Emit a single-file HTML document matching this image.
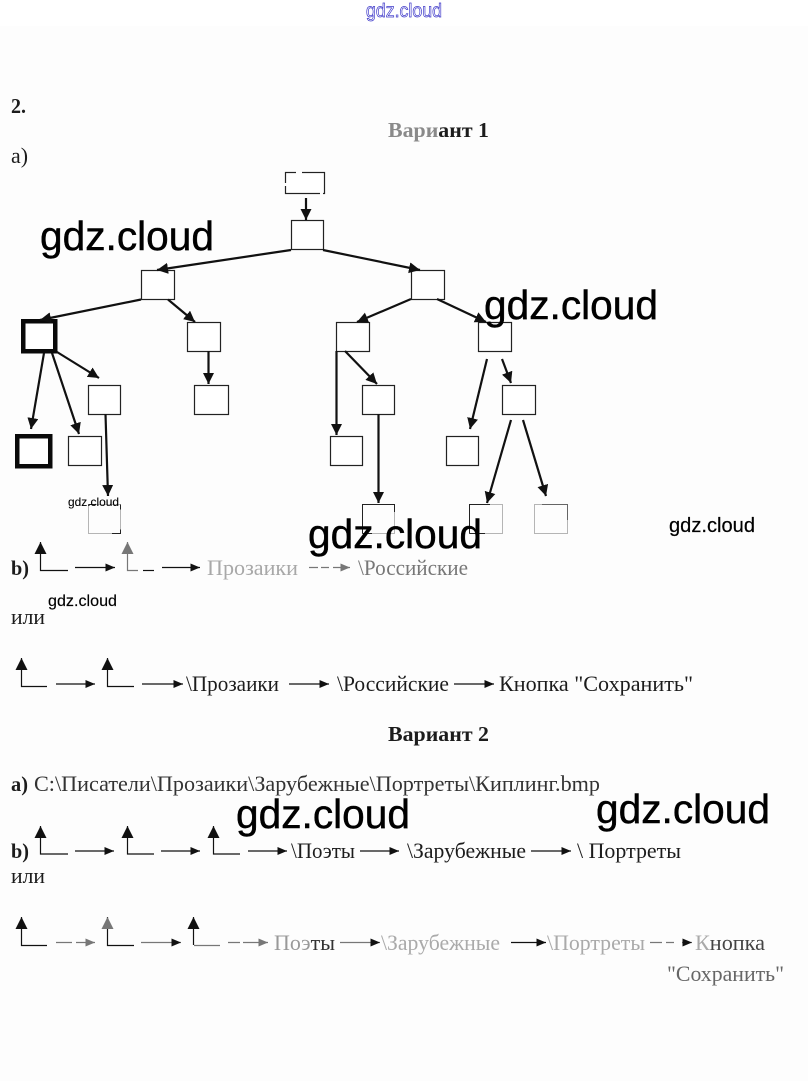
<!DOCTYPE html>
<html lang="ru">
<head>
<meta charset="utf-8">
<title>Вариант</title>
<style>
html,body{margin:0;padding:0;background:#fff}
svg{display:block}
text{font-family:"Liberation Serif",serif;font-size:22px;fill:#1c1c1c}
.b{font-weight:bold;font-size:21px}
.w{font-family:"Liberation Sans",sans-serif;fill:#000;stroke:#000;stroke-width:.45}
.bx{fill:#fff;stroke:#222;stroke-width:1.2}
.fd{fill:#fdfdfd;stroke:#b5b5b5;stroke-width:1}
.t{stroke:#111;stroke-width:2.2;fill:none}
.r{stroke:#111;stroke-width:1.2;fill:none}
.rg{stroke:#777;stroke-width:1.2;fill:none}
</style>
</head>
<body>
<svg width="808" height="1081" viewBox="0 0 808 1081" xmlns="http://www.w3.org/2000/svg">
<defs>
<marker id="h" markerUnits="userSpaceOnUse" markerWidth="13" markerHeight="13" refX="11" refY="5.500" orient="auto"><path d="M0 0L11 5.500L0 11Z" fill="#111"/></marker>
<marker id="s" markerUnits="userSpaceOnUse" markerWidth="11" markerHeight="9" refX="9.500" refY="4" orient="auto"><path d="M0 0L9.500 4L0 8Z" fill="#111"/></marker>
<marker id="g" markerUnits="userSpaceOnUse" markerWidth="11" markerHeight="9" refX="9.500" refY="4" orient="auto"><path d="M0 0L9.500 4L0 8Z" fill="#777"/></marker>
<marker id="u" markerUnits="userSpaceOnUse" markerWidth="14" markerHeight="13" refX="12" refY="6" orient="auto"><path d="M0 0L12 6L0 12Z" fill="#111"/></marker>
<marker id="ug" markerUnits="userSpaceOnUse" markerWidth="14" markerHeight="13" refX="12" refY="6" orient="auto"><path d="M0 0L12 6L0 12Z" fill="#777"/></marker>
</defs>
<rect width="808" height="1081" fill="#fdfdfd"/>
<rect width="808" height="26" fill="#fff"/>

<text class="w" x="366" y="17" textLength="76" lengthAdjust="spacingAndGlyphs" style="fill:#fff;stroke:#3a35c8;stroke-width:.7;font-size:19px">gdz.cloud</text>

<text class="b" x="11" y="113" textLength="15" lengthAdjust="spacingAndGlyphs">2.</text>
<text class="b" x="388" y="137" textLength="101" lengthAdjust="spacingAndGlyphs"><tspan style="fill:#8a8a8a">Вари</tspan>ант 1</text>
<text x="11" y="163" textLength="17" lengthAdjust="spacingAndGlyphs">а)</text>

<!-- tree boxes -->
<rect class="bx" x="285.500" y="172.500" width="39" height="21"/>
<path d="M296 172.500h6M285.500 183v3M320 193.500h3" stroke="#fdfdfd" stroke-width="2" fill="none"/>
<rect class="bx" x="291.500" y="220.500" width="32" height="29"/>
<rect class="bx" x="141.500" y="270.500" width="33" height="29"/>
<rect class="bx" x="411.500" y="270.500" width="33" height="29"/>
<rect x="23.250" y="321.250" width="32" height="30" fill="#fff" stroke="#0a0a0a" stroke-width="4.500"/>
<rect class="bx" x="187.500" y="322.500" width="33" height="29"/>
<rect class="bx" x="336.500" y="322.500" width="33" height="29"/>
<rect class="bx" x="478.500" y="322.500" width="33" height="29"/>
<rect class="bx" x="88.500" y="385.500" width="32" height="29"/>
<rect class="bx" x="194.500" y="385.500" width="34" height="29"/>
<rect class="bx" x="362.500" y="385.500" width="32" height="29"/>
<rect class="bx" x="502.500" y="385.500" width="33" height="29"/>
<rect x="17.250" y="436.250" width="33" height="30" fill="#fff" stroke="#0a0a0a" stroke-width="4.500"/>
<rect class="bx" x="68.500" y="436.500" width="33" height="29"/>
<rect class="bx" x="330.500" y="436.500" width="32" height="29"/>
<rect class="bx" x="446.500" y="436.500" width="32" height="29"/>
<rect class="fd" x="88.500" y="504.500" width="32" height="29"/>
<path d="M88.500 504.500H95M120.500 504.500v5M112 533.500h8.500v-4" fill="none" stroke="#222"/>
<rect class="fd" x="362.500" y="504.500" width="32" height="29"/>
<path d="M362.500 533.500V504.500H394.500V512M362.500 533.500H372" fill="none" stroke="#222"/>
<rect class="fd" x="469.500" y="504.500" width="33" height="29"/>
<path d="M469.500 533.500V504.500H490M469.500 533.500H485" fill="none" stroke="#222"/>
<rect class="fd" x="534.500" y="504.500" width="33" height="29"/>
<path d="M542 504.500H567.500V520" fill="none" stroke="#666"/>

<!-- tree arrows -->
<g class="t">
<path d="M306 198V220" marker-end="url(#h)"/>
<path d="M291 250L157 270" marker-end="url(#h)"/>
<path d="M323 250L420 270" marker-end="url(#h)"/>
<path d="M141 299.500L40 320" marker-end="url(#h)"/>
<path d="M168 299.500L195 322" marker-end="url(#h)"/>
<path d="M57 352L99 378" marker-end="url(#h)"/>
<path d="M44 353L31 429" marker-end="url(#h)"/>
<path d="M52 353L79 434" marker-end="url(#h)"/>
<path d="M105.500 414L108 496" marker-end="url(#h)"/>
<path d="M208.500 351V384" marker-end="url(#h)"/>
<path d="M336.500 351V435" marker-end="url(#h)"/>
<path d="M345 351L377 384" marker-end="url(#h)"/>
<path d="M378.500 414V503" marker-end="url(#h)"/>
<path d="M411 299L357 322" marker-end="url(#h)"/>
<path d="M437 299L486 322" marker-end="url(#h)"/>
<path d="M487 359L470 429" marker-end="url(#h)"/>
<path d="M502 359L511 383" marker-end="url(#h)"/>
<path d="M511 420L487 503" marker-end="url(#h)"/>
<path d="M523 420L546 496" marker-end="url(#h)"/>
</g>

<!-- row b) variant 1 -->
<text class="b" x="11" y="575" textLength="18" lengthAdjust="spacingAndGlyphs">b)</text>
<path class="r" d="M68 570.500H40.500V542" marker-end="url(#u)"/>
<path class="r" d="M75 567.500H115" marker-end="url(#s)"/>
<path class="rg" d="M138 570.500H127.500V542" marker-end="url(#ug)"/>
<path class="r" d="M143 570.500H154"/>
<path class="r" d="M162 567.500H200" marker-end="url(#s)"/>
<text x="207" y="575" textLength="91" lengthAdjust="spacingAndGlyphs" style="fill:#a8a8a8">Прозаики</text>
<path class="rg" d="M309 567.500H350" stroke-dasharray="9 3 8 4" marker-end="url(#g)"/>
<text x="358" y="575" textLength="110" lengthAdjust="spacingAndGlyphs" style="fill:#777">\Российские</text>
<text x="11" y="624" textLength="34" lengthAdjust="spacingAndGlyphs">или</text>

<path class="r" d="M47 686.500H21.500V658" marker-end="url(#u)"/>
<path class="r" d="M56 684H95" marker-end="url(#s)"/>
<path class="r" d="M134 686.500H107.500V658" marker-end="url(#u)"/>
<path class="r" d="M142 684H183" marker-end="url(#s)"/>
<text x="186" y="691" textLength="93" lengthAdjust="spacingAndGlyphs">\Прозаики</text>
<path class="r" d="M289 684H329" marker-end="url(#s)"/>
<text x="337" y="691" textLength="112" lengthAdjust="spacingAndGlyphs">\Российские</text>
<path class="r" d="M454 684H494" marker-end="url(#s)"/>
<text x="499" y="691" textLength="194" lengthAdjust="spacingAndGlyphs">Кнопка "Сохранить"</text>

<text class="b" x="388" y="741" textLength="101" lengthAdjust="spacingAndGlyphs">Вариант 2</text>
<text class="b" x="11" y="791" textLength="17" lengthAdjust="spacingAndGlyphs">а)</text>
<text x="34" y="791" textLength="566" lengthAdjust="spacingAndGlyphs" style="fill:#333">С:\Писатели\Прозаики\Зарубежные\Портреты\Киплинг.bmp</text>

<!-- row b) variant 2 -->
<text class="b" x="11" y="858" textLength="18" lengthAdjust="spacingAndGlyphs">b)</text>
<path class="r" d="M68 854H40.500V826" marker-end="url(#u)"/>
<path class="r" d="M75 851H114" marker-end="url(#s)"/>
<path class="r" d="M154 854H127.500V826" marker-end="url(#u)"/>
<path class="r" d="M161 851H200" marker-end="url(#s)"/>
<path class="r" d="M240 854H213.500V826" marker-end="url(#u)"/>
<path class="r" d="M248 851H287" marker-end="url(#s)"/>
<text x="291" y="858" textLength="64" lengthAdjust="spacingAndGlyphs">\Поэты</text>
<path class="r" d="M360 851H399" marker-end="url(#s)"/>
<text x="407" y="858" textLength="119" lengthAdjust="spacingAndGlyphs">\Зарубежные</text>
<path class="r" d="M531 851H571" marker-end="url(#s)"/>
<text x="577" y="858" textLength="104" lengthAdjust="spacingAndGlyphs">\ Портреты</text>
<text x="11" y="883" textLength="34" lengthAdjust="spacingAndGlyphs">или</text>

<path class="r" d="M47 945.500H21.500V917" marker-end="url(#u)"/>
<path class="rg" d="M56 942.500H95" stroke-dasharray="16 4 20" marker-end="url(#g)"/>
<path class="r" d="M134 945.500H107.500V917" marker-end="url(#ug)"/>
<path class="rg" d="M141 942.500H181" marker-end="url(#s)"/>
<path class="rg" d="M220 945.500H194"/>
<path class="r" d="M193.500 945V917" marker-end="url(#u)"/>
<path class="rg" d="M228 942.500H268" stroke-dasharray="12 3 25" marker-end="url(#g)"/>
<text x="274" y="950" textLength="61" lengthAdjust="spacingAndGlyphs"><tspan style="fill:#999">Поэ</tspan><tspan style="fill:#333">ты</tspan></text>
<path class="rg" d="M340 942.500H380" marker-end="url(#s)"/>
<text x="381" y="950" textLength="119" lengthAdjust="spacingAndGlyphs" style="fill:#aaa">\Зарубежные</text>
<path class="r" d="M511 942.500H546" marker-end="url(#s)"/>
<text x="547" y="950" textLength="98" lengthAdjust="spacingAndGlyphs" style="fill:#aaa">\Портреты</text>
<path class="rg" d="M650 942.500H692" stroke-dasharray="12 4 8 8" marker-end="url(#s)"/>
<text x="695" y="950" textLength="70" lengthAdjust="spacingAndGlyphs"><tspan style="fill:#aaa">К</tspan><tspan style="fill:#444">нопка</tspan></text>
<text x="667" y="981" textLength="117" lengthAdjust="spacingAndGlyphs" style="fill:#666">"Сохранить"</text>

<!-- watermarks -->
<text class="w" x="40" y="250" textLength="174" lengthAdjust="spacingAndGlyphs" style="font-size:41px">gdz.cloud</text>
<text class="w" x="484" y="319" textLength="174" lengthAdjust="spacingAndGlyphs" style="font-size:41px">gdz.cloud</text>
<text class="w" x="308" y="548" textLength="174" lengthAdjust="spacingAndGlyphs" style="font-size:41px">gdz.cloud</text>
<text class="w" x="236" y="828" textLength="174" lengthAdjust="spacingAndGlyphs" style="font-size:41px">gdz.cloud</text>
<text class="w" x="596" y="823" textLength="174" lengthAdjust="spacingAndGlyphs" style="font-size:41px">gdz.cloud</text>
<text class="w" x="669" y="532" textLength="86" lengthAdjust="spacingAndGlyphs" style="font-size:20px;stroke-width:.2">gdz.cloud</text>
<text class="w" x="48" y="606" textLength="69" lengthAdjust="spacingAndGlyphs" style="font-size:16px;stroke-width:.15">gdz.cloud</text>
<text class="w" x="68" y="506" textLength="51" lengthAdjust="spacingAndGlyphs" style="font-size:12px;stroke-width:.1">gdz.cloud</text>
</svg>
</body>
</html>
